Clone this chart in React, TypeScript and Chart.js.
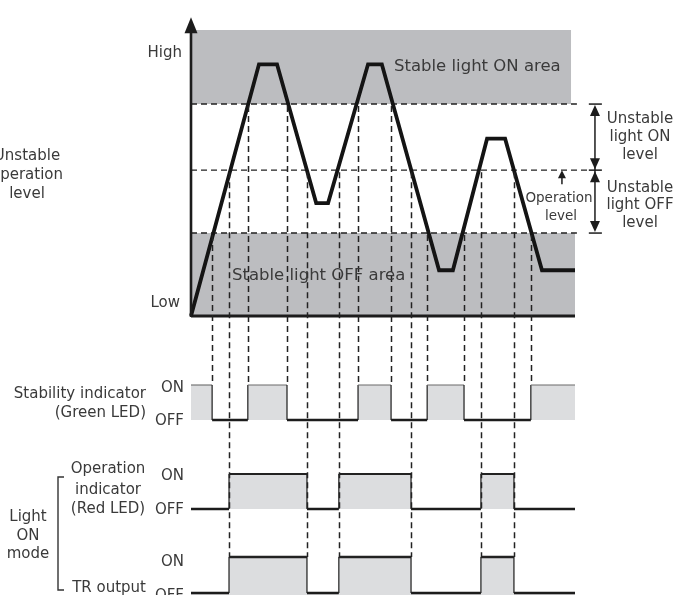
import React, { useEffect, useRef } from "react";
import { Chart, registerables } from "chart.js";

Chart.register(...registerables);

const W = 687;
const H = 595;

// ---- level values (0 = Low, 100 = top of the diagram) ----
const TOP_LEVEL = 100;
const ON_LEVEL = 74.1; // stable light ON threshold
const OP_LEVEL = 51; // operation level
const OFF_LEVEL = 29; // stable light OFF threshold
const AXIS_TIP_LEVEL = 104.5;

// received light curve (time, level)
const curveTimes = [0, 17.7, 22.4, 32.6, 35.7, 46.1, 49.7, 64.6, 68.2, 77.1, 81.8, 91.4, 100];
const curveLevels = [0, 88, 88, 39.5, 39.5, 88, 88, 16, 16, 62, 62, 16, 16];

// stability indicator (green LED): 1 = ON, 0 = OFF
const greenTimes = [0, 5.5, 5.5, 14.8, 14.8, 25.0, 25.0, 43.5, 43.5, 52.1, 52.1, 61.5, 61.5, 71.1, 71.1, 88.5, 88.5, 100];
const greenStates = [1, 1, 0, 0, 1, 1, 0, 0, 1, 1, 0, 0, 1, 1, 0, 0, 1, 1];

// operation indicator (red LED) and TR output
const redTimes = [0, 9.9, 9.9, 30.2, 30.2, 38.5, 38.5, 57.3, 57.3, 75.5, 75.5, 84.1, 84.1, 100];
const redStates = [0, 0, 1, 1, 0, 0, 1, 1, 0, 0, 1, 1, 0, 0];

// vertical guide lines (threshold crossings)
const greenEdgeTimes = [5.5, 14.8, 25.0, 43.5, 52.1, 61.5, 71.1, 88.5];
const greenEdgeLevels = [OFF_LEVEL, ON_LEVEL, ON_LEVEL, ON_LEVEL, ON_LEVEL, OFF_LEVEL, OFF_LEVEL, OFF_LEVEL];
const redEdgeTimes = [9.9, 30.2, 38.5, 57.3, 75.5, 84.1];

// ---- layout helpers ----
function xRange(zeroPx: number, unitPx: number) {
  return { min: -zeroPx / unitPx, max: (W - zeroPx) / unitPx };
}
function yRange(zeroPx: number, unitPx: number) {
  return { min: -(H - zeroPx) / unitPx, max: zeroPx / unitPx };
}

const FONT = '"DejaVu Sans", sans-serif';
const TEXT = "#3a3a3a";
const INK = "#1c1c1c";
const DARK_GRAY = "#bcbdc0";
const LIGHT_GRAY = "#dcdddf";

function signalDataset(times: number[], states: number[], axis: string, topColor: string, topWidth: number, fill: any) {
  return {
    data: times.map((t, i) => ({ x: t, y: states[i] })),
    yAxisID: axis,
    borderColor: INK,
    borderWidth: 1.2,
    backgroundColor: LIGHT_GRAY,
    fill,
    pointRadius: 0,
    order: 3,
    segment: {
      borderWidth: (c: any) =>
        c.p0.parsed.y === c.p1.parsed.y ? (c.p0.parsed.y === 0 ? 2.6 : topWidth) : 1.2,
      borderColor: (c: any) =>
        c.p0.parsed.y === c.p1.parsed.y && c.p0.parsed.y === 1 ? topColor : INK,
    },
  };
}

function flatLine(t0: number, t1: number, level: number, extra: any) {
  return Object.assign(
    {
      data: [
        { x: t0, y: level },
        { x: t1, y: level },
      ],
      yAxisID: "yLevel",
      pointRadius: 0,
      fill: false,
    },
    extra
  );
}

function arrowHead(ctx: CanvasRenderingContext2D, x: number, tipY: number, dir: number, halfW: number, len: number) {
  ctx.beginPath();
  ctx.moveTo(x, tipY);
  ctx.lineTo(x - halfW, tipY - dir * len);
  ctx.lineTo(x + halfW, tipY - dir * len);
  ctx.closePath();
  ctx.fill();
}

const diagramPlugin = {
  id: "diagram",
  afterDatasetsDraw(chart: any) {
    const ctx: CanvasRenderingContext2D = chart.ctx;
    const sx = chart.scales.x;
    const yL = chart.scales.yLevel;
    const yG = chart.scales.yG;
    const yT = chart.scales.yT;
    const px = (t: number) => sx.getPixelForValue(t);
    ctx.save();

    // y axis with arrow
    const ax = px(0);
    const tip = yL.getPixelForValue(AXIS_TIP_LEVEL);
    ctx.strokeStyle = INK;
    ctx.fillStyle = INK;
    ctx.lineWidth = 2.6;
    ctx.beginPath();
    ctx.moveTo(ax, yL.getPixelForValue(0) + 1);
    ctx.lineTo(ax, tip + 10);
    ctx.stroke();
    arrowHead(ctx, ax, tip, -1, 6.5, 16);

    // vertical dashed guides
    ctx.setLineDash([6, 4]);
    ctx.lineWidth = 1.5;
    ctx.strokeStyle = "#222";
    greenEdgeTimes.forEach((t, i) => {
      const x = Math.round(px(t)) + 0.5;
      ctx.beginPath();
      ctx.moveTo(x, yL.getPixelForValue(greenEdgeLevels[i]) + 2);
      ctx.lineTo(x, yG.getPixelForValue(1));
      ctx.stroke();
    });
    redEdgeTimes.forEach((t) => {
      const x = Math.round(px(t)) + 0.5;
      ctx.beginPath();
      ctx.moveTo(x, yL.getPixelForValue(OP_LEVEL) + 2);
      ctx.lineTo(x, yT.getPixelForValue(1));
      ctx.stroke();
    });
    ctx.setLineDash([]);

    // right bracket with double arrows
    const bx = px(105.2);
    const yOn = yL.getPixelForValue(ON_LEVEL);
    const yOp = yL.getPixelForValue(OP_LEVEL);
    const yOff = yL.getPixelForValue(OFF_LEVEL);
    ctx.lineWidth = 1.5;
    ctx.strokeStyle = INK;
    ctx.fillStyle = INK;
    [yOn, yOp, yOff].forEach((y) => {
      ctx.beginPath();
      ctx.moveTo(px(103.6), y);
      ctx.lineTo(px(107.0), y);
      ctx.stroke();
    });
    ctx.beginPath();
    ctx.moveTo(bx, yOn + 8);
    ctx.lineTo(bx, yOff - 8);
    ctx.stroke();
    arrowHead(ctx, bx, yOn + 1, -1, 5, 11);
    arrowHead(ctx, bx, yOp - 1, 1, 5, 11);
    arrowHead(ctx, bx, yOp + 1, -1, 5, 11);
    arrowHead(ctx, bx, yOff - 1, 1, 5, 11);

    // small operation-level arrow
    const ox = px(96.6);
    ctx.lineWidth = 1.5;
    ctx.beginPath();
    ctx.moveTo(ox, yOp + 6);
    ctx.lineTo(ox, yOp + 14);
    ctx.stroke();
    arrowHead(ctx, ox, yOp, -1, 4, 8);

    // ---- text ----
    ctx.fillStyle = TEXT;
    ctx.textBaseline = "middle";
    const txt = (s: string, x: number, y: number, align: CanvasTextAlign, size = 15) => {
      ctx.font = `${size}px ${FONT}`;
      ctx.textAlign = align;
      ctx.fillText(s, x, y);
    };
    txt("High", 182, 53, "right");
    txt("Low", 180, 303, "right");
    txt("Unstable", 27, 156, "center");
    txt("operation", 27, 175, "center");
    txt("level", 27, 194, "center");
    txt("Stable light ON area", 394, 67, "left", 16.5);
    txt("Stable light OFF area", 232, 276, "left", 16.5);
    txt("Unstable", 640, 119, "center");
    txt("light ON", 640, 137, "center");
    txt("level", 640, 155, "center");
    txt("Unstable", 640, 188, "center");
    txt("light OFF", 640, 205.5, "center");
    txt("level", 640, 223, "center");
    txt("Operation", 559, 198, "center", 13.5);
    txt("level", 561, 216, "center", 13.5);

    txt("Stability indicator", 146, 394, "right");
    txt("(Green LED)", 146, 413, "right");
    txt("ON", 184, 388, "right");
    txt("OFF", 184, 421, "right");

    txt("Operation", 108, 469, "center");
    txt("indicator", 108, 490, "center");
    txt("(Red LED)", 108, 509, "center");
    txt("ON", 184, 476, "right");
    txt("OFF", 184, 510, "right");

    txt("Light", 28, 517, "center");
    txt("ON", 28, 536, "center");
    txt("mode", 28, 554, "center");
    txt("ON", 184, 562, "right");
    txt("TR output", 146, 588, "right");
    txt("OFF", 184, 596, "right");

    // mode bracket
    ctx.strokeStyle = "#333";
    ctx.lineWidth = 1.4;
    ctx.beginPath();
    ctx.moveTo(64, 477);
    ctx.lineTo(58, 477);
    ctx.lineTo(58, 590);
    ctx.lineTo(64, 590);
    ctx.stroke();

    ctx.restore();
  },
};

export default function App() {
  const ref = useRef<HTMLCanvasElement>(null);
  useEffect(() => {
    document.body.style.margin = "0";
    const chart = new Chart(ref.current as HTMLCanvasElement, {
      type: "line",
      data: {
        datasets: [
          // received light curve
          {
            data: curveTimes.map((t, i) => ({ x: t, y: curveLevels[i] })),
            yAxisID: "yLevel",
            borderColor: "#141414",
            borderWidth: 3.8,
            borderJoinStyle: "miter",
            pointRadius: 0,
            fill: false,
            order: 0,
          } as any,
          // signals
          signalDataset(greenTimes, greenStates, "yG", "#6a6a6a", 1.1, { value: 0 }) as any,
          signalDataset(redTimes, redStates, "yR", "#222", 2.2, { value: 0 }) as any,
          signalDataset(redTimes, redStates, "yT", "#222", 2.4, "start") as any,
          // threshold dashed lines
          flatLine(0, 100.5, ON_LEVEL, { borderColor: "#222", borderWidth: 1.4, borderDash: [6, 4], order: 5 }),
          flatLine(0, 103.6, OP_LEVEL, { borderColor: "#222", borderWidth: 1.4, borderDash: [6, 4], order: 5 }),
          flatLine(0, 100.5, OFF_LEVEL, { borderColor: "#222", borderWidth: 1.4, borderDash: [6, 4], order: 5 }),
          // x axis baseline
          flatLine(0, 100, 0, { borderColor: INK, borderWidth: 3, order: 4 }),
          // stable areas
          flatLine(0, 99, TOP_LEVEL, {
            borderColor: "rgba(0,0,0,0)",
            borderWidth: 1,
            backgroundColor: DARK_GRAY,
            fill: { value: ON_LEVEL },
            order: 10,
          }),
          flatLine(0, 100, OFF_LEVEL, {
            borderColor: "rgba(0,0,0,0)",
            borderWidth: 1,
            backgroundColor: DARK_GRAY,
            fill: { value: 0 },
            order: 10,
          }),
        ],
      },
      options: {
        animation: false,
        responsive: false,
        devicePixelRatio: 1,
        events: [],
        layout: { padding: 0 },
        plugins: {
          legend: { display: false },
          tooltip: { enabled: false },
          title: { display: false },
        },
        elements: { point: { radius: 0 }, line: { tension: 0 } },
        scales: {
          x: { type: "linear", display: false, ...xRange(191, 3.84) },
          yLevel: { type: "linear", display: false, ...yRange(316, 2.86) },
          yG: { type: "linear", display: false, ...yRange(420, 35) },
          yR: { type: "linear", display: false, ...yRange(509, 35) },
          yT: { type: "linear", display: false, ...yRange(593, 36) },
        },
      } as any,
      plugins: [diagramPlugin],
    });
    return () => chart.destroy();
  }, []);
  return (
    <div style={{ width: W, height: H, background: "#fff" }}>
      <canvas ref={ref} width={W} height={H} style={{ display: "block", width: W, height: H }} />
    </div>
  );
}
